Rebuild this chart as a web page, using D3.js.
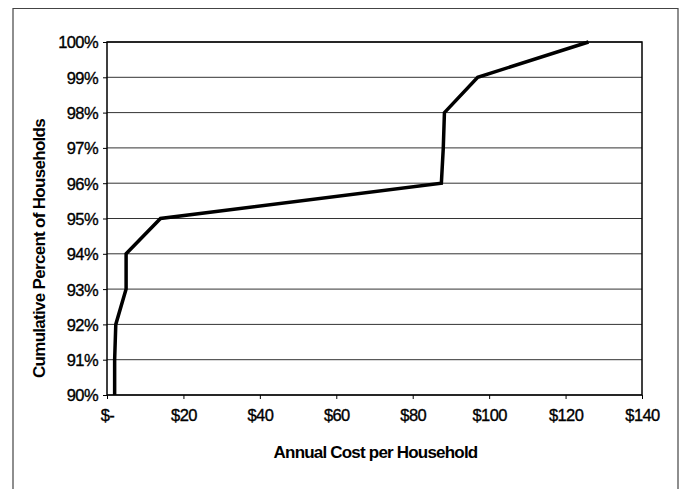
<!DOCTYPE html>
<html>
<head>
<meta charset="utf-8">
<script src="https://cdn.jsdelivr.net/npm/d3@7"></script>
<style>
  html, body { margin: 0; padding: 0; background: #fff; }
  svg { display: block; }
  text { font-family: "Liberation Sans", Arial, sans-serif; fill: #000; }
</style>
</head>
<body>
<svg id="chart" width="680" height="489"></svg>
<script>
// Data
const percents = [90, 91, 92, 93, 94, 95, 96, 97, 98, 99, 100];
const costs    = [2, 2, 2.3, 5, 5, 14, 87.5, 88, 88.3, 97, 126];
const xTicks = [0, 20, 40, 60, 80, 100, 120, 140];
const xTickLabels = ["$-", "$20", "$40", "$60", "$80", "$100", "$120", "$140"];
const yTicks = [90, 91, 92, 93, 94, 95, 96, 97, 98, 99, 100];
const xTitle = "Annual Cost per Household";
const yTitle = "Cumulative Percent of Households";

const svg = d3.select("#chart");
const L = 107, R = 642, T = 42, B = 395;

const x = d3.scaleLinear().domain([0, 140]).range([L, R]);
const y = d3.scaleLinear().domain([90, 100]).range([B, T]);

// outer frame
svg.append("path")
  .attr("d", `M13,495 L13,8.5 L678,8.5 L678,495`)
  .attr("fill", "none").attr("stroke", "#444").attr("stroke-width", 1.2);

// gridlines
svg.append("g").selectAll("line").data(yTicks).join("line")
  .attr("x1", L).attr("x2", R)
  .attr("y1", d => y(d)).attr("y2", d => y(d))
  .attr("stroke", "#333").attr("stroke-width", 1);

// y axis
const yAxis = d3.axisLeft(y).tickValues(yTicks).tickSize(4).tickPadding(5)
  .tickFormat(d => d + "%");
const gy = svg.append("g").attr("transform", `translate(${L},0)`).call(yAxis);
gy.select(".domain").remove();
gy.selectAll("line").attr("stroke", "#000");
gy.selectAll("text").style("font-size", "16.5px").style("letter-spacing", "-0.6px")
  .style("stroke", "#000").style("stroke-width", "0.35px")
  .attr("dy", "0.36em");

// x axis
const xAxis = d3.axisBottom(x).tickValues(xTicks).tickSize(4).tickPadding(10)
  .tickFormat((d, i) => xTickLabels[i]);
const gx = svg.append("g").attr("transform", `translate(0,${B})`).call(xAxis);
gx.select(".domain").remove();
gx.selectAll("line").attr("stroke", "#000");
gx.selectAll("text").style("font-size", "16.5px").style("letter-spacing", "-0.6px")
  .style("stroke", "#000").style("stroke-width", "0.35px");

// plot border
svg.append("rect").attr("x", L).attr("y", T).attr("width", R - L).attr("height", B - T)
  .attr("fill", "none").attr("stroke", "#000").attr("stroke-width", 1.5);

// data line
const line = d3.line().x((d, i) => x(costs[i])).y((d, i) => y(percents[i]));
svg.append("path").datum(percents)
  .attr("d", line)
  .attr("fill", "none").attr("stroke", "#000").attr("stroke-width", 3.5)
  .attr("stroke-linejoin", "miter");

// titles
svg.append("text").attr("x", (L + R) / 2 + 1).attr("y", 458)
  .attr("text-anchor", "middle").style("font-size", "17px").style("font-weight", "bold")
  .style("letter-spacing", "-0.8px").text(xTitle);

svg.append("text")
  .attr("transform", `translate(45,${(T + B) / 2 + 30}) rotate(-90)`)
  .attr("text-anchor", "middle").style("font-size", "17px").style("font-weight", "bold")
  .style("letter-spacing", "-0.7px").text(yTitle);
</script>
</body>
</html>
